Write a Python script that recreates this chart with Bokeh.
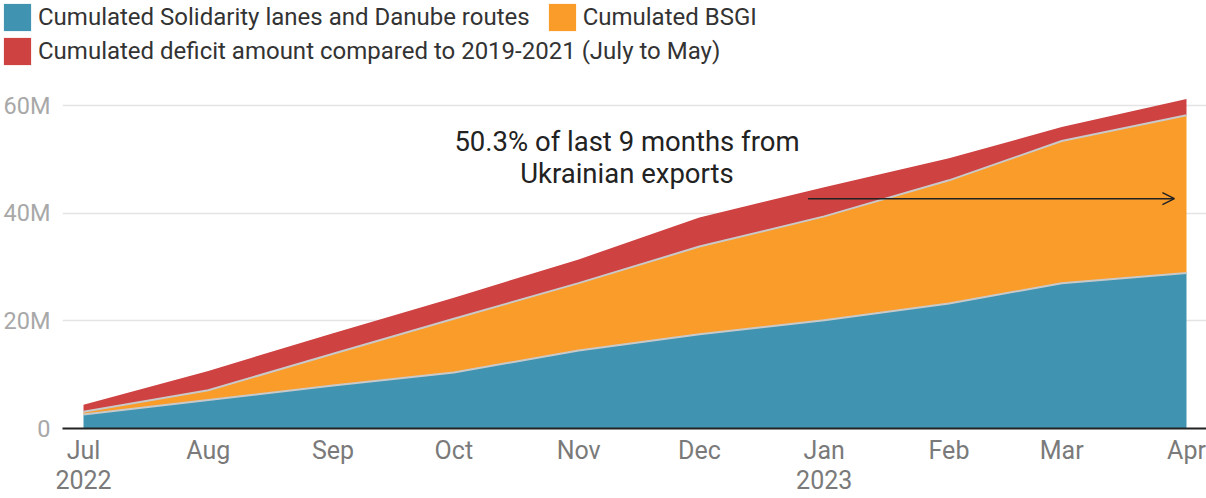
import pandas as pd
from bokeh.plotting import figure
from bokeh.layouts import column
from bokeh.models import (ColumnDataSource, Legend, LegendItem, FixedTicker,
                          Arrow, OpenHead, Label, Range1d)
from bokeh.embed import file_html
from bokeh.resources import INLINE

# ---------------- data (million tonnes, cumulated) ----------------
months = ["2022-07-01", "2022-08-01", "2022-09-01", "2022-10-01", "2022-11-01",
          "2022-12-01", "2023-01-01", "2023-02-01", "2023-03-01", "2023-04-01"]
solidarity = [2.6, 5.3, 8.0, 10.4, 14.5, 17.5, 20.1, 23.2, 27.0, 28.9]
bsgi = [0.5, 1.8, 5.9, 10.0, 12.5, 16.3, 19.3, 22.9, 26.4, 29.3]
deficit = [1.3, 3.6, 3.8, 3.9, 4.4, 5.4, 5.4, 4.1, 2.6, 3.0]

series_names = ["Cumulated Solidarity lanes and Danube routes",
                "Cumulated BSGI",
                "Cumulated deficit amount compared to 2019-2021 (July to May)"]
x_tick_labels = ["Jul\n2022", "Aug", "Sep", "Oct", "Nov", "Dec",
                 "Jan\n2023", "Feb", "Mar", "Apr"]
y_ticks = [0, 20, 40, 60]
y_tick_labels = ["0", "20M", "40M", "60M"]
note_lines = ["50.3% of last 9 months from", "Ukrainian exports"]
note_date = "2022-11-13"
note_y = [53.3, 47.3]
arrow_from, arrow_to, arrow_y = "2022-12-28", "2023-03-29", 42.7

# ---------------- derived stacks ----------------
dates = pd.to_datetime(months)
s1 = solidarity
s2 = [a + b for a, b in zip(solidarity, bsgi)]
s3 = [a + b for a, b in zip(s2, deficit)]
src = ColumnDataSource(dict(x=dates, zero=[0] * len(dates), s1=s1, s2=s2, s3=s3))

BLUE, ORANGE, RED = "#4094b1", "#f99c2a", "#cf4242"
COLORS = [BLUE, ORANGE, RED]
FONT = "Roboto"

W = 1206
LEG_H = 68              # legend strip on top
MAIN_H = 430            # chart below it
FRAME_L, FRAME_B = 62, 360
px_per_day = 1103 / 274.0
px_per_unit = 323 / 60.0
x0 = dates[0] - pd.Timedelta(days=21 / px_per_day)
x1 = dates[-1] + pd.Timedelta(days=20 / px_per_day)
y_end = FRAME_B / px_per_unit

# ---------------- legend strip ----------------
leg = figure(width=W, height=LEG_H, output_backend="svg", toolbar_location=None,
             title=None, x_range=Range1d(0, 1), y_range=Range1d(0, 1),
             x_axis_location=None, y_axis_location=None,
             min_border_left=0, min_border_right=0, min_border_top=0,
             min_border_bottom=0, frame_align=False)
leg.outline_line_color = None
leg.xgrid.visible = False
leg.ygrid.visible = False
# zero-height helper areas: only their legend swatches are visible
swatches = [leg.varea(x=[0, 1], y1=[0, 0], y2=[0, 0], fill_color=c) for c in COLORS]


def make_legend(items, loc, spacing=0):
    lg = Legend(items=items, location=loc, orientation="horizontal",
                padding=0, margin=0, spacing=spacing,
                glyph_width=34, glyph_height=34, label_standoff=4,
                label_text_font=FONT, label_text_font_size="24px",
                label_text_color="#333333", border_line_color=None,
                background_fill_alpha=0)
    leg.add_layout(lg)


make_legend([LegendItem(label=series_names[0], renderers=[swatches[0]]),
             LegendItem(label=series_names[1], renderers=[swatches[1]])],
            (0, 34), spacing=15)
make_legend([LegendItem(label=series_names[2], renderers=[swatches[2]])], (0, 0))

# ---------------- main chart ----------------
p = figure(width=W, height=MAIN_H, x_axis_type="datetime", output_backend="svg",
           toolbar_location=None, title=None,
           x_range=Range1d(x0, x1), y_range=Range1d(0, y_end),
           min_border_left=FRAME_L, min_border_right=0, min_border_top=0,
           min_border_bottom=MAIN_H - FRAME_B, frame_align=False)
p.outline_line_color = None

p.varea(x="x", y1="zero", y2="s1", source=src, fill_color=BLUE)
p.varea(x="x", y1="s1", y2="s2", source=src, fill_color=ORANGE)
p.varea(x="x", y1="s2", y2="s3", source=src, fill_color=RED)
p.line(x="x", y="s1", source=src, line_color="#c9c9c9", line_width=2)
p.line(x="x", y="s2", source=src, line_color="#c9c9c9", line_width=2)

# grid
p.xgrid.visible = False
p.ygrid.ticker = FixedTicker(ticks=y_ticks[1:])
p.ygrid.grid_line_color = "#e4e4e4"
p.ygrid.grid_line_width = 1.5

# y axis
p.yaxis.ticker = FixedTicker(ticks=y_ticks)
p.yaxis.major_label_overrides = {t: l for t, l in zip(y_ticks, y_tick_labels)}
p.yaxis.axis_line_color = None
p.yaxis.major_tick_line_color = None
p.yaxis.major_tick_out = 0
p.yaxis.major_tick_in = 0
p.yaxis.minor_tick_line_color = None
p.yaxis.major_label_text_color = "#a8a8a8"
p.yaxis.major_label_text_font = FONT
p.yaxis.major_label_text_font_size = "23.5px"
p.yaxis.major_label_standoff = 12

# x axis
xt = [float(d.value // 10**6) for d in dates]
p.xaxis.ticker = FixedTicker(ticks=xt)
p.xaxis.major_label_overrides = {t: l for t, l in zip(xt, x_tick_labels)}
p.xaxis.axis_line_color = "#222222"
p.xaxis.axis_line_width = 2
p.xaxis.major_tick_line_color = None
p.xaxis.major_tick_out = 0
p.xaxis.major_tick_in = 0
p.xaxis.minor_tick_line_color = None
p.xaxis.major_label_text_color = "#7a7a7a"
p.xaxis.major_label_text_font = FONT
p.xaxis.major_label_text_font_size = "25px"
p.xaxis.major_label_text_line_height = 1.06
p.xaxis.major_label_standoff = 7

# annotation
for line, yv in zip(note_lines, note_y):
    p.add_layout(Label(x=pd.Timestamp(note_date), y=yv, text=line,
                       text_align="center", text_baseline="alphabetic",
                       text_font=FONT, text_font_size="27.5px",
                       text_color="#222222"))

p.add_layout(Arrow(end=OpenHead(size=12, line_width=1.5, line_color="#222222"),
                   x_start=pd.Timestamp(arrow_from), y_start=arrow_y,
                   x_end=pd.Timestamp(arrow_to), y_end=arrow_y,
                   line_width=1.5, line_color="#222222"))

layout = column(leg, p, spacing=0)
open("out.html", "w").write(file_html(layout, INLINE))
